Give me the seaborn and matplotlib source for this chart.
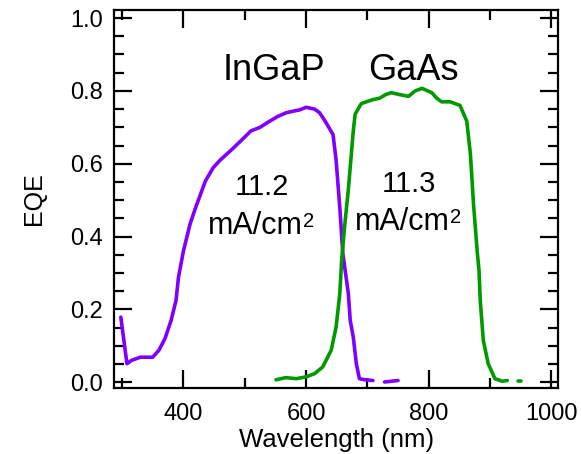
import numpy as np
import pandas as pd
import matplotlib
matplotlib.use("Agg")
import matplotlib.pyplot as plt
import seaborn as sns
from matplotlib.ticker import MultipleLocator

# ---- data ----
ingap_wl = [298, 308, 315, 330, 350, 360, 370, 380, 388, 392, 400, 411, 420, 436, 449, 460,
            477, 495, 510, 525, 537, 554, 568, 581, 590, 600, 614, 622, 630, 644, 649, 655,
            660, 666, 669, 672, 677, 682, 687, 696, 709, 718, 728, 750]
ingap_eqe = [0.179, 0.051, 0.060, 0.069, 0.069, 0.088, 0.120, 0.170, 0.225, 0.288, 0.360, 0.435,
             0.480, 0.553, 0.590, 0.610, 0.636, 0.665, 0.690, 0.700, 0.713, 0.730, 0.740, 0.745,
             0.748, 0.755, 0.750, 0.740, 0.720, 0.680, 0.610, 0.480, 0.353, 0.280, 0.243, 0.170,
             0.124, 0.051, 0.010, 0.007, 0.005, np.nan, 0.001, 0.005]

gaas_wl = [551, 567, 584, 600, 614, 627, 641, 649, 655, 658, 663, 669, 677, 680, 690, 707, 720,
           730, 739, 752, 767, 778, 789, 805, 813, 821, 835, 851, 862, 868, 873, 879, 882, 884,
           889, 897, 908, 920, 928, 938, 945, 950]
gaas_eqe = [0.007, 0.013, 0.010, 0.015, 0.024, 0.042, 0.088, 0.152, 0.243, 0.334, 0.430, 0.530,
            0.690, 0.736, 0.765, 0.775, 0.780, 0.790, 0.795, 0.790, 0.785, 0.800, 0.807, 0.795,
            0.780, 0.770, 0.770, 0.760, 0.717, 0.626, 0.490, 0.360, 0.307, 0.225, 0.115, 0.051,
            0.010, 0.003, 0.005, np.nan, 0.003, 0.003]

cell_names = ["InGaP", "GaAs"]
current_values = ["11.2", "11.3"]
unit_base = "mA/cm"
unit_exp = "2"
x_ticks = [400, 600, 800, 1000]
y_ticks = [0.0, 0.2, 0.4, 0.6, 0.8, 1.0]

colors = {"InGaP": "#7F00FF", "GaAs": "#009A00"}


def to_frame(wl, eqe, name):
    df = pd.DataFrame({"wl": wl, "eqe": eqe})
    df["seg"] = df["eqe"].isna().cumsum()
    df = df.dropna()
    df["cell"] = name
    return df


data = pd.concat([to_frame(ingap_wl, ingap_eqe, "InGaP"),
                  to_frame(gaas_wl, gaas_eqe, "GaAs")], ignore_index=True)
data["unit"] = data["cell"] + data["seg"].astype(str)

sns.set_style("ticks")
plt.rcParams["font.family"] = ["Liberation Sans", "DejaVu Sans"]
plt.rcParams["text.color"] = "black"
plt.rcParams["axes.labelcolor"] = "black"
plt.rcParams["xtick.color"] = "black"
plt.rcParams["ytick.color"] = "black"

fig = plt.figure(figsize=(5.82, 4.54), dpi=100)
ax = fig.add_axes([0.196, 0.145, 0.763, 0.833])

sns.lineplot(data=data, x="wl", y="eqe", hue="cell", units="unit", estimator=None,
             palette=colors, linewidth=2.6, sort=False, legend=False, ax=ax)

ax.set_xlim(287, 1011)
ax.set_ylim(-0.016, 1.022)
ax.set_xticks(x_ticks)
ax.set_xticklabels([str(t) for t in x_ticks])
ax.set_yticks(y_ticks)
ax.set_yticklabels([f"{t:.1f}" for t in y_ticks])
ax.xaxis.set_minor_locator(MultipleLocator(100))
ax.yaxis.set_minor_locator(MultipleLocator(0.05))
ax.tick_params(which="both", direction="in", top=True, right=True, width=1.6,
               labelsize=17, color="black", labelcolor="black")
ax.tick_params(which="major", length=13)
ax.tick_params(which="minor", length=7)
ax.tick_params(axis="x", which="major", pad=11)
ax.tick_params(axis="y", which="major", pad=8)
for s in ax.spines.values():
    s.set_linewidth(1.6)
    s.set_color("black")

ax.set_xlabel("Wavelength (nm)", fontsize=18.5, labelpad=2)
ax.set_ylabel("EQE", fontsize=18, labelpad=17)

ax.text(547, 0.855, cell_names[0], fontsize=26, ha="center", va="center")
ax.text(775, 0.855, cell_names[1], fontsize=26, ha="center", va="center")
ax.text(528, 0.514, current_values[0], fontsize=21, ha="center", va="baseline")
ax.text(767, 0.522, current_values[1], fontsize=21, ha="center", va="baseline")

fig.canvas.draw()
renderer = fig.canvas.get_renderer()
for (ux, uy) in [(439.5, 0.408), (680.0, 0.418)]:
    t = ax.text(ux, uy, unit_base, fontsize=22, ha="left", va="baseline")
    bb = t.get_window_extent(renderer=renderer)
    # superscript placed right after the base text, top aligned to capital height
    x_disp = bb.x1 + 0.3
    y_disp = ax.transData.transform((ux, uy))[1] + 0.716 * 22 * fig.dpi / 72.0
    xd, yd = ax.transData.inverted().transform((x_disp, y_disp))
    ax.text(xd, yd, unit_exp, fontsize=14.5, ha="left", va="top")

fig.savefig("out.png", dpi=100)
